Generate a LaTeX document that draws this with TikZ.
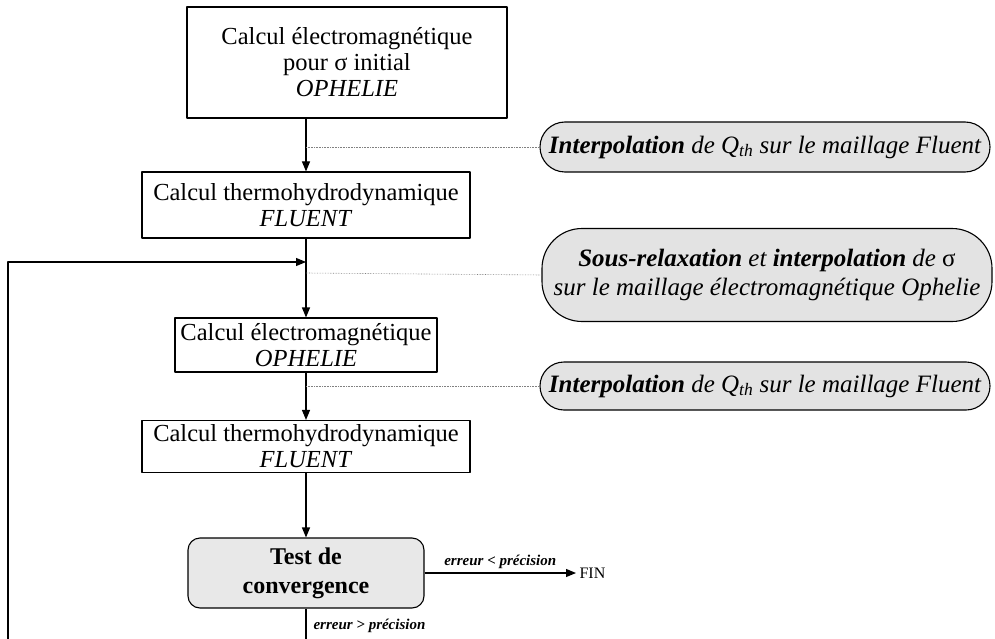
\documentclass[tikz,border=0pt]{standalone}
\usepackage{fontspec}
\setmainfont{Liberation Serif}
\usetikzlibrary{arrows.meta}
\tikzset{
  calcbox/.style={draw, line width=1.1pt, align=center, inner sep=2pt,
    font=\fontsize{24.5}{26}\selectfont},
  pill/.style={draw, line width=1.1pt, fill=gray!22, align=center,
    minimum width=450pt, font=\fontsize{25}{29}\selectfont\itshape},
  testbox/.style={draw, line width=1.1pt, fill=gray!18, rounded corners=12pt, align=center,
    minimum width=236pt, minimum height=70pt, font=\fontsize{24}{29}\selectfont\bfseries},
  flow/.style={line width=1.1pt, -{Triangle[length=10pt,width=8pt]}},
  link/.style={gray, densely dotted, line width=0.6pt},
  cond/.style={font=\fontsize{15}{17}\selectfont\bfseries\itshape},
}
\begin{document}
\begin{tikzpicture}[x=1pt, y=-1pt, line join=round]
	\useasboundingbox (0,0) rectangle (995,639);
	\clip (0,0) rectangle (995,639);
	% blocs de calcul
	\node[calcbox, minimum width=320pt, minimum height=111pt] (em0) at (347,62.5) {Calcul électromagnétique\\pour {\upshape σ} initial\\\textit{OPHELIE}};
	\node[calcbox, minimum width=328pt, minimum height=66pt] (th1) at (306,205) {Calcul thermohydrodynamique\\\textit{FLUENT}};
	\node[calcbox, minimum width=262pt, minimum height=54pt] (em1) at (306,345) {Calcul électromagnétique\\\textit{OPHELIE}};
	\node[calcbox, minimum width=328pt, minimum height=52pt] (th2) at (306,446.5) {Calcul thermohydrodynamique\\\textit{FLUENT}};
	\node[testbox] (test) at (306,573) {Test de\\convergence};
	\node[font=\fontsize{16}{18}\selectfont, anchor=west] (fin) at (576,573) {FIN};
	% interpolations
	\node[pill, minimum height=50pt, rounded corners=25pt] (ip1) at (765,147) {\textbf{Interpolation} de Q\textsubscript{\textit{th}} sur le maillage Fluent};
	\node[pill, minimum height=93pt, rounded corners=40pt] (ip2) at (767,275) {\textbf{Sous-relaxation} et \textbf{interpolation} de {\upshape σ}\\sur le maillage électromagnétique Ophelie};
	\node[pill, minimum height=48pt, rounded corners=24pt] (ip3) at (765,386) {\textbf{Interpolation} de Q\textsubscript{\textit{th}} sur le maillage Fluent};
	\coordinate (j1) at (306,147);
	\coordinate (loop) at (306,262);
	\coordinate (j2) at (306,273);
	\coordinate (j3) at (306,386);
	\coordinate (bas) at (306,660);
	% fleches
	\draw[flow] (em0.south -| th1.north) -- (th1.north);
	\draw[flow] (th1.south) -- (em1.north);
	\draw[flow] (em1.south) -- (th2.north);
	\draw[flow] (th2.south) -- (test.north);
	\draw[flow] (test.east) -- (fin.west) node[midway, above, cond] {erreur < précision};
	\draw[flow] (test.south) -- (bas) -| (8,262) -- (loop);
	\node[cond, anchor=west] (nonconv) at (310,626) {erreur > précision};
	\draw[link] (j1) -- (ip1.west);
	\draw[link] (j2) -- (ip2.west);
	\draw[link] (j3) -- (ip3.west);
\end{tikzpicture}
\end{document}
